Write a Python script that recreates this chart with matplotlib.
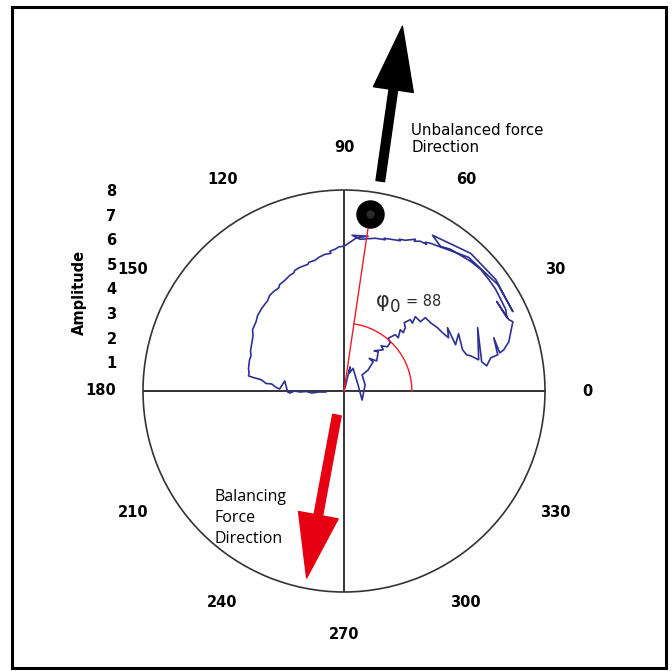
#!/usr/bin/env python3
"""Polar vibration plot: unbalance trace with unbalanced / balancing force directions."""

import matplotlib

matplotlib.use("Agg")
import matplotlib.pyplot as plt
import matplotlib.patches as mpatches
import numpy as np

# vibration vector trace, horizontal / vertical components (amplitude units)
trace_x = [0.04, 0.24, 0.20, 0.36, 0.44, 0.56, 0.72, 0.84, 0.72, 0.96, 1.16, 1.00, 1.30,
           1.36, 1.20, 1.56, 1.48, 1.72, 1.84, 1.76, 2.04, 2.16, 2.24, 2.36, 2.44, 2.40,
           2.64, 2.72, 2.84, 3.04, 3.24, 3.44, 3.72, 3.92, 4.16, 4.12, 4.44, 4.56, 4.72,
           4.88, 5.04, 5.36, 5.32, 5.48, 5.68, 5.84, 6.12, 5.96, 6.20, 6.36, 6.56, 6.64,
           6.72, 6.56, 6.08, 6.48, 6.44, 6.24, 6.04, 5.76, 5.44, 5.04, 4.64, 4.24, 3.84,
           3.52, 5.04, 6.04, 6.72, 6.12, 4.96,
           3.44, 3.24, 3.28, 3.04, 2.80, 2.84, 2.44, 2.20, 2.24, 1.84, 1.60, 1.64, 1.24,
           0.96, 0.64, 0.32, 0.96, 0.50, 0.24, 0.00, -0.20, -0.36, -0.56, -0.52, -0.76,
           -1.00, -1.16, -1.40, -1.44, -1.76, -1.96, -2.00, -2.16, -2.36, -2.56, -2.60,
           -2.80, -2.96, -3.04, -3.16, -3.28, -3.44, -3.50, -3.64, -3.62, -3.68, -3.72,
           -3.70, -3.76, -3.80, -3.78, -3.80, -3.56, -3.40, -3.28, -3.10, -2.88, -2.70,
           -2.56, -2.36, -2.24, -2.16, -1.96, -1.76, -1.50, -1.28, -1.00, -0.72]
trace_y = [0.12, 0.96, 0.70, 0.90, 0.64, 0.24, -0.36, 0.24, 0.64, 0.84, 1.16, 1.30, 1.20,
           1.56, 1.60, 1.64, 1.80, 1.76, 1.92, 2.10, 2.24, 2.12, 2.44, 2.32, 2.52, 2.72,
           2.84, 2.70, 2.96, 2.76, 2.92, 2.72, 2.52, 2.32, 2.12, 2.52, 1.84, 2.28, 1.64,
           1.44, 1.40, 1.24, 2.52, 1.16, 1.00, 1.32, 1.44, 2.12, 1.52, 1.64, 1.96, 2.36,
           2.76, 2.84, 3.56, 2.92, 3.24, 3.64, 4.04, 4.44, 4.84, 5.16, 5.40, 5.64, 5.76,
           6.20, 5.48, 4.44, 3.16, 4.24, 5.32,
           5.88, 5.92, 5.84, 5.96, 5.96, 6.04, 6.00, 6.04, 5.98, 6.04, 6.08, 6.02, 6.08,
           6.06, 6.04, 6.20, 6.16, 6.10, 5.92, 5.76, 5.74, 5.64, 5.56, 5.48, 5.44,
           5.32, 5.20, 5.12, 5.04, 4.92, 4.80, 4.70, 4.60, 4.40, 4.24, 4.10,
           3.96, 3.80, 3.60, 3.44, 3.28, 3.00, 2.76, 2.44, 2.20, 1.84, 1.60,
           1.40, 1.24, 0.90, 0.70, 0.60, 0.52, 0.48, 0.44, 0.30, 0.28, 0.14,
           0.08, 0.40, -0.04, -0.08, 0.00, -0.04, -0.02, -0.08, -0.04, -0.04]

# unbalance point (horizontal / vertical component)
unbalance_x = 1.04
unbalance_y = 7.04
phase_label = "88"
arc_radius = 2.7
r_max = 8

angle_ticks = [0, 30, 60, 90, 120, 150, 180, 210, 240, 270, 300, 330]
amp_ticks = [1, 2, 3, 4, 5, 6, 7, 8]

# force direction arrows: (angle deg, amplitude) of tail and tip
unbal_arrow = [(80.2, 8.48), (80.9, 14.70)]
bal_arrow = [(253.7, 1.00), (258.7, 7.59)]

BLUE = "#2e3192"
RED = "#ee1c25"
GREY = "#333333"

fig = plt.figure(figsize=(6.72, 6.71), dpi=100)
rect = [143 / 672, 79 / 671, 402 / 672, 402 / 671]

# amplitude scale on an overlay cartesian axes
ax2 = fig.add_axes(rect)
ax2.set_ylim(-8.34, 7.92)
ax2.set_yticks(amp_ticks)
ax2.set_yticklabels([str(v) for v in amp_ticks], fontsize=10.5, fontweight="bold")
ax2.tick_params(axis="y", length=0, pad=19)
ax2.set_xticks([])
for s in ax2.spines.values():
    s.set_visible(False)
ax2.patch.set_alpha(0)
ax2.set_ylabel("Amplitude", fontsize=10.5, fontweight="bold")
ax2.yaxis.set_label_coords(-0.139, 0.744)

ax = fig.add_axes(rect, projection="polar")
ax.patch.set_alpha(0)
ax.set_ylim(0, r_max)
ax.grid(False)
ax.set_xticks([])
ax.set_yticks([])
ax.spines["polar"].set_color(GREY)
ax.spines["polar"].set_linewidth(1.2)

for a in (0, 90, 180, 270):
    ax.plot([np.deg2rad(a)] * 2, [0, r_max], color=GREY, lw=1.4, solid_capstyle="butt")

for a in angle_ticks:
    ax.text(np.deg2rad(a), 9.7, str(a), ha="center", va="center",
            fontsize=10.5, fontweight="bold", clip_on=False)

tx = np.array(trace_x)
ty = np.array(trace_y)
ax.plot(np.arctan2(ty, tx), np.hypot(tx, ty), color=BLUE, lw=1.2)

phi = np.arctan2(unbalance_y, unbalance_x)
r_unb = np.hypot(unbalance_x, unbalance_y)
ax.plot([phi, phi], [0, r_unb], color=RED, lw=1.0)
arc = np.linspace(0, phi, 80)
ax.plot(arc, np.full_like(arc, arc_radius), color=RED, lw=1.0)
ax.plot([phi], [r_unb], "o", color="black", markersize=19.5, clip_on=False, zorder=5)
ax.plot([phi], [r_unb], "o", color="#2a2a2a", markersize=6, mew=0, clip_on=False, zorder=6)


def force_arrow(pts, color):
    (a0, r0), (a1, r1) = pts
    ax.annotate("", xy=(np.deg2rad(a1), r1), xytext=(np.deg2rad(a0), r0),
                xycoords="data", annotation_clip=False,
                arrowprops=dict(arrowstyle="simple,head_length=4.6,head_width=2.9,tail_width=0.62",
                                mutation_scale=10, color=color, shrinkA=0, shrinkB=0))


force_arrow(unbal_arrow, "black")
force_arrow(bal_arrow, "#e60012")

fig.text(411 / 672, 1 - 139 / 671, "Unbalanced force\nDirection", fontsize=10.8,
         ha="left", va="center", linespacing=1.15)
fig.text(215 / 672, 1 - 518 / 671, "Balancing\nForce\nDirection", fontsize=11.5,
         family="Open Sans", ha="left", va="center", linespacing=1.45)

fig.text(376 / 672, 1 - 301 / 671, "φ", fontsize=15, color="#2b2b2b", ha="left", va="center")
fig.text(390 / 672, 1 - 307 / 671, "0", fontsize=12, color="#2b2b2b", ha="left", va="center")
fig.text(406 / 672, 1 - 302 / 671, "= " + phase_label, fontsize=10.5, color="#2b2b2b",
         ha="left", va="center")

fig.patches.append(mpatches.Rectangle((12 / 672, 3 / 671), 654 / 672, 661 / 671,
                                      transform=fig.transFigure, fill=False,
                                      edgecolor="black", lw=2.2))

fig.savefig("out.png", dpi=100)
